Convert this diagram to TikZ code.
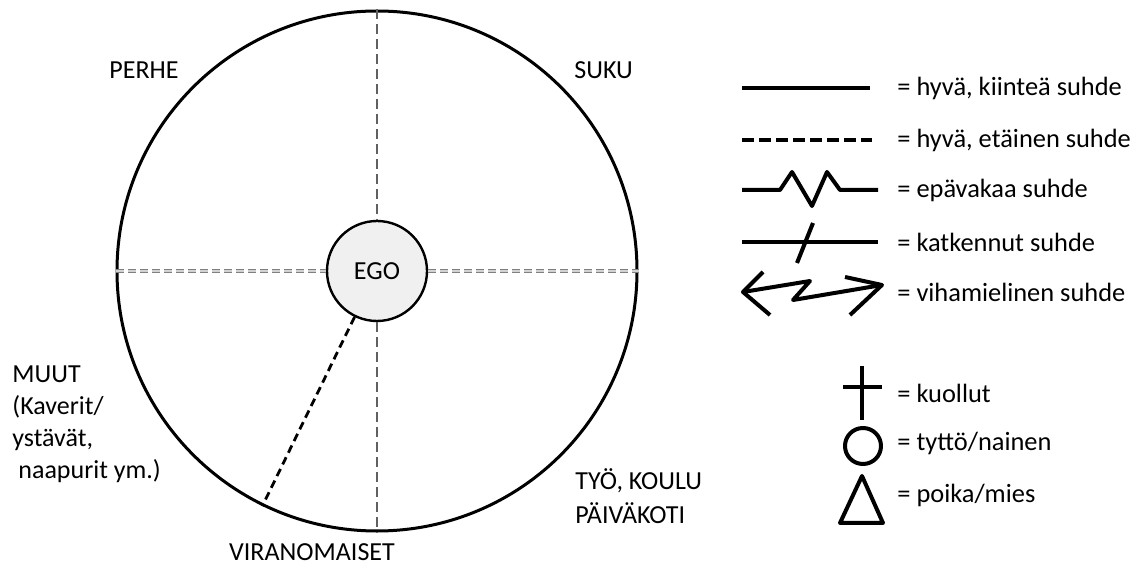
\documentclass[tikz,border=0pt]{standalone}
\usepackage{fontspec}
\setmainfont{Carlito}
\begin{document}
\begin{tikzpicture}[x=0.5pt, y=-0.5pt, font=\fontsize{13}{15}\selectfont,
  lbl/.style={inner sep=0pt, align=left},
  legtext/.style={anchor=west, inner sep=0pt, font=\fontsize{13.2}{16}\selectfont},
  sym/.style={line width=2pt, line join=round},
  spoke/.style={gray!75!black, line width=1pt, dash pattern=on 5pt off 2.5pt},
  sidespoke/.style={draw=gray, double=gray!35, double distance=0.7pt, line width=0.45pt, dash pattern=on 4pt off 2pt}]

\useasboundingbox (0,0) rectangle (1142,566);

% Circles
\node[draw, circle, line width=1.5pt, minimum size=260pt, inner sep=0pt] (ring) at (377,271) {};
\node[draw, circle, line width=1.2pt, fill=gray!12, minimum size=50pt, inner sep=0pt] (ego) at (377,271) {EGO};

% Spokes
\draw[spoke] (ring.north) -- (ego.north);
\draw[spoke] (ego.south) -- (ring.south);
\draw[sidespoke] (ring.west) -- (ego.west);
\draw[sidespoke] (ego.east) -- (ring.east);
\draw[line width=1.4pt, dash pattern=on 4pt off 2.5pt] (ego.244) -- (ring.244);

% Sector labels
\node[lbl, anchor=west] (perhe) at (109,70) {PERHE};
\node[lbl, anchor=west] (suku) at (574,70) {SUKU};
\node[lbl, anchor=west, font=\fontsize{13}{16}\selectfont] (muut) at (12,424) {MUUT\\(Kaverit/\\ystävät,\\\hspace*{3pt}naapurit ym.)};
\node[lbl, anchor=west, font=\fontsize{13}{17}\selectfont] (tyo) at (575,496) {TYÖ, KOULU\\PÄIVÄKOTI};
\node[lbl] (viranomaiset) at (312,552) {VIRANOMAISET};

% Legend: relations
\draw[sym] (742,88) -- (870,88);
\node[legtext] (hyva) at (897,88) {= hyvä, kiinteä suhde};

\draw[sym, dash pattern=on 6pt off 2.5pt] (742,140) -- (872,140);
\node[legtext] (etainen) at (897,140) {= hyvä, etäinen suhde};

\draw[sym] (742,190) -- (780,190) -- (792,172) -- (812,206) -- (827,172) -- (840,190) -- (878,190);
\node[legtext] (epavakaa) at (897,190) {= epävakaa suhde};

\draw[sym] (742,242) -- (878,242);
\draw[sym] (813,223) -- (797,263);
\node[legtext] (katkennut) at (897,242) {= katkennut suhde};

\draw[sym] (743,292) -- (810,281) -- (793,300) -- (882,285);
\draw[sym] (763,272) -- (743,292) -- (770,315);
\draw[sym] (845,277) -- (882,285) -- (850,315);
\node[legtext] (viha) at (897,292) {= vihamielinen suhde};

% Legend: persons
\draw[sym] (862,366) -- (862,420);
\draw[sym] (843,387) -- (882,387);
\node[legtext] (kuollut) at (897,393) {= kuollut};

\draw[sym] (863,446) circle (18);
\node[legtext] (tytto) at (897,443) {= tyttö/nainen};

\draw[sym] (862,476) -- (883,523) -- (840,523) -- cycle;
\node[legtext] (poika) at (897,495) {= poika/mies};

\end{tikzpicture}
\end{document}
